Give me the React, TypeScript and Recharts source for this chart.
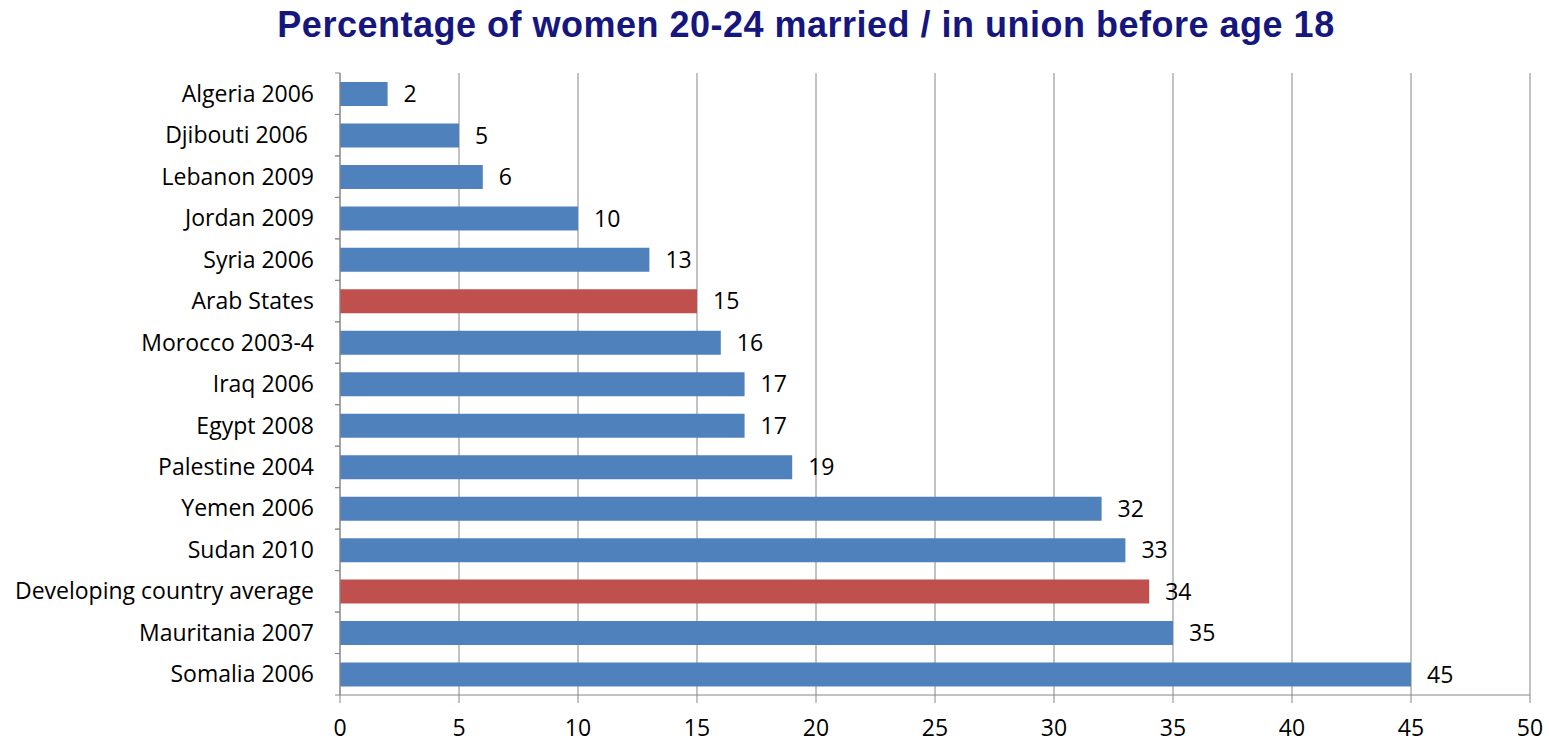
import React from "react";
import { BarChart, Bar, XAxis, YAxis, CartesianGrid, Cell, LabelList } from "recharts";

const categories = [
  "Algeria 2006",
  "Djibouti 2006 ",
  "Lebanon 2009",
  "Jordan 2009",
  "Syria 2006",
  "Arab States",
  "Morocco 2003-4",
  "Iraq 2006",
  "Egypt 2008",
  "Palestine 2004",
  "Yemen 2006",
  "Sudan 2010",
  "Developing country average",
  "Mauritania 2007",
  "Somalia 2006",
];
const values = [2, 5, 6, 10, 13, 15, 16, 17, 17, 19, 32, 33, 34, 35, 45];
const isAggregate = [false, false, false, false, false, true, false, false, false, false, false, false, true, false, false];
const xTicks = [0, 5, 10, 15, 20, 25, 30, 35, 40, 45, 50];
const title = "Percentage of women 20-24 married / in union before age 18";

const data = categories.map((name, i) => ({ name, value: values[i], agg: isAggregate[i] }));

const W = 1549;
const H = 742;
const M = { top: 73, right: 19, bottom: 0, left: 0 };
const Y_W = 340;
const X_H = 47;
const plotH = H - M.top - M.bottom - X_H;
const band = plotH / categories.length;
const FONT = "'Open Sans', sans-serif";
const FS = 23;
const GRAY = "#868686";

const CatTick = (props: any) => {
  const { x, y, payload } = props;
  const axisX = Y_W;
  return (
    <g>
      <line x1={axisX - 5} x2={axisX} y1={y - band / 2} y2={y - band / 2} stroke={GRAY} />
      <line x1={axisX - 5} x2={axisX} y1={y + band / 2} y2={y + band / 2} stroke={GRAY} />
      <text
        x={x}
        y={y}
        dy="0.35em"
        textAnchor="end"
        fill="#000"
        fontSize={FS}
        fontFamily={FONT}
        style={{ whiteSpace: "pre" }}
      >
        {payload.value}
      </text>
    </g>
  );
};

export default function App() {
  return (
    <div style={{ position: "absolute", left: 0, top: 0, width: W, height: H, background: "#fff" }}>
      <BarChart width={W} height={H} data={data} layout="vertical" margin={M}>
        <text
          x={806}
          y={37}
          textAnchor="middle"
          fontSize={36}
          fontWeight="bold"
          letterSpacing={0.5}
          fontFamily="'Liberation Sans', Arial, sans-serif"
          fill="#16167F"
        >
          {title}
        </text>
        <CartesianGrid horizontal={false} vertical stroke={GRAY} strokeWidth={1} />
        <XAxis
          type="number"
          domain={[0, 50]}
          ticks={xTicks}
          interval={0}
          height={X_H}
          tickSize={8}
          tickMargin={17}
          stroke={GRAY}
          tick={{ fill: "#000", fontSize: FS, fontFamily: FONT }}
        />
        <YAxis
          type="category"
          dataKey="name"
          width={Y_W}
          interval={0}
          tickLine={false}
          tickSize={0}
          tickMargin={26}
          stroke={GRAY}
          tick={<CatTick />}
        />
        <Bar dataKey="value" barSize={24} isAnimationActive={false}>
          {data.map((d, i) => (
            <Cell key={i} fill={d.agg ? "#C0504D" : "#4F81BD"} />
          ))}
          <LabelList
            dataKey="value"
            position="right"
            offset={16}
            fill="#000"
            fontSize={FS}
            fontFamily={FONT}
          />
        </Bar>
      </BarChart>
    </div>
  );
}
